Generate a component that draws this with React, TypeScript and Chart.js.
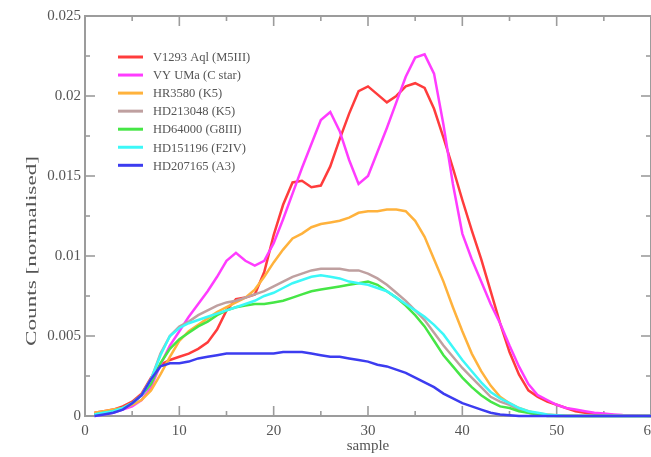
import React, { useEffect, useRef } from "react";
import { Chart, registerables } from "chart.js";

Chart.register(...registerables);

const samples = [1, 2, 3, 4, 5, 6, 7, 8, 9, 10, 11, 12, 13, 14, 15, 16, 17, 18, 19, 20, 21, 22, 23, 24, 25, 26, 27, 28, 29, 30, 31, 32, 33, 34, 35, 36, 37, 38, 39, 40, 41, 42, 43, 44, 45, 46, 47, 48, 49, 50, 51, 52, 53, 54, 55, 56, 57, 58, 59, 60];

const v1293Aql = [0.0002, 0.0003, 0.0004, 0.0006, 0.0009, 0.0014, 0.0024, 0.0032, 0.0035, 0.0037,
  0.0039, 0.0042, 0.0046, 0.0054, 0.0066, 0.0073, 0.0074, 0.0076, 0.0090, 0.0113,
  0.0132, 0.0146, 0.0147, 0.0143, 0.0144, 0.0156, 0.0173, 0.0189, 0.0203, 0.0206,
  0.0201, 0.0196, 0.0200, 0.0206, 0.0208, 0.0205, 0.0192, 0.0174, 0.0155, 0.0135,
  0.0116, 0.0098, 0.0078, 0.0058, 0.0040, 0.0026, 0.0016, 0.0012, 0.0009, 0.0007,
  0.0005, 0.0003, 0.0002, 0.00014, 0.0001, 0.00006, 0.00004, 0.00002, 0.00001, 0];

const vyUMa = [0, 0.0001, 0.0002, 0.0004, 0.0006, 0.0010, 0.0018, 0.0032, 0.0044, 0.0053,
  0.0062, 0.0070, 0.0078, 0.0087, 0.0097, 0.0102, 0.0097, 0.0094, 0.0097, 0.0108,
  0.0123, 0.0139, 0.0155, 0.0170, 0.0185, 0.0190, 0.0178, 0.0160, 0.0145, 0.0150,
  0.0165, 0.0180, 0.0196, 0.0212, 0.0224, 0.0226, 0.0214, 0.0182, 0.0145, 0.0114,
  0.0098, 0.0084, 0.0070, 0.0058, 0.0044, 0.0031, 0.0020, 0.0013, 0.0010, 0.0007,
  0.0005, 0.0004, 0.0003, 0.0002, 0.00015, 0.0001, 0.00006, 0.00004, 0.00002, 0.00001];

const hr3580 = [0.0002, 0.0003, 0.0004, 0.0005, 0.0007, 0.0010, 0.0016, 0.0026, 0.0037, 0.0047,
  0.0053, 0.0057, 0.0061, 0.0065, 0.0068, 0.0071, 0.0074, 0.0079, 0.0087, 0.0096,
  0.0104, 0.0111, 0.0114, 0.0118, 0.0120, 0.0121, 0.0122, 0.0124, 0.0127, 0.0128,
  0.0128, 0.0129, 0.0129, 0.0128, 0.0122, 0.0112, 0.0098, 0.0084, 0.0068, 0.0053,
  0.0039, 0.0028, 0.0019, 0.0012, 0.0008, 0.0005, 0.0003, 0.00015, 0.0001, 0.00005,
  0.00002, 0.00001, 0, 0, 0, 0, 0, 0, 0, 0];

const hd213048 = [0.0001, 0.0002, 0.0003, 0.0005, 0.0008, 0.0013, 0.0023, 0.0039, 0.0050, 0.0056,
  0.0059, 0.0063, 0.0066, 0.0069, 0.0071, 0.0072, 0.0074, 0.0076, 0.0078, 0.0081,
  0.0084, 0.0087, 0.0089, 0.0091, 0.0092, 0.0092, 0.0092, 0.0091, 0.0091, 0.0089,
  0.0086, 0.0082, 0.0077, 0.0072, 0.0066, 0.0060, 0.0052, 0.0044, 0.0037, 0.0030,
  0.0024, 0.0018, 0.0012, 0.0009, 0.0007, 0.0004, 0.0002, 0.0001, 0.00005, 0,
  0, 0, 0, 0, 0, 0, 0, 0, 0, 0];

const hd64000 = [0.0001, 0.0002, 0.0003, 0.0005, 0.0008, 0.0013, 0.0020, 0.0033, 0.0042, 0.0048,
  0.0052, 0.0056, 0.0059, 0.0063, 0.0066, 0.0068, 0.0069, 0.0070, 0.0070, 0.0071,
  0.0072, 0.0074, 0.0076, 0.0078, 0.0079, 0.0080, 0.0081, 0.0082, 0.0083, 0.0084,
  0.0082, 0.0078, 0.0074, 0.0069, 0.0063, 0.0056, 0.0047, 0.0038, 0.0031, 0.0024,
  0.0018, 0.0013, 0.0009, 0.0006, 0.0005, 0.0003, 0.0002, 0.0001, 0, 0,
  0, 0, 0, 0, 0, 0, 0, 0, 0, 0];

const hd151196 = [0.0001, 0.0002, 0.0003, 0.0005, 0.0008, 0.0013, 0.0023, 0.0038, 0.0050, 0.0055,
  0.0058, 0.0060, 0.0062, 0.0064, 0.0066, 0.0068, 0.0070, 0.0072, 0.0075, 0.0077,
  0.0080, 0.0083, 0.0085, 0.0087, 0.0088, 0.0087, 0.0086, 0.0084, 0.0083, 0.0082,
  0.0080, 0.0078, 0.0074, 0.0070, 0.0066, 0.0062, 0.0057, 0.0051, 0.0043, 0.0035,
  0.0028, 0.0021, 0.0015, 0.0011, 0.0008, 0.0005, 0.0003, 0.0002, 0.0001, 0.00005,
  0, 0, 0, 0, 0, 0, 0, 0, 0, 0];

const hd207165 = [0, 0.0001, 0.0002, 0.0004, 0.0008, 0.0013, 0.0023, 0.0031, 0.0033, 0.0033,
  0.0034, 0.0036, 0.0037, 0.0038, 0.0039, 0.0039, 0.0039, 0.0039, 0.0039, 0.0039,
  0.0040, 0.0040, 0.0040, 0.0039, 0.0038, 0.0037, 0.0037, 0.0036, 0.0035, 0.0034,
  0.0032, 0.0031, 0.0029, 0.0027, 0.0024, 0.0021, 0.0018, 0.0014, 0.0011, 0.0008,
  0.0006, 0.0004, 0.0002, 0.0001, 0.00005, 0, 0, 0, 0, 0,
  0, 0, 0, 0, 0, 0, 0, 0, 0, 0];

const seriesLabels = [
  "V1293 Aql (M5III)",
  "VY UMa (C star)",
  "HR3580 (K5)",
  "HD213048 (K5)",
  "HD64000 (G8III)",
  "HD151196 (F2IV)",
  "HD207165 (A3)",
];
const seriesValues = [v1293Aql, vyUMa, hr3580, hd213048, hd64000, hd151196, hd207165];
const seriesColors = ["#ff3c3c", "#ff3cff", "#ffb23c", "#bfa0a0", "#46e646", "#3cf8f8", "#3c3cf0"];

const xTicks = [0, 10, 20, 30, 40, 50, 60];
const xMinorTicks = [5, 15, 25, 35, 45, 55];
const yTicks = [0, 0.005, 0.01, 0.015, 0.02, 0.025];
const yMinorTicks = [0.0025, 0.0075, 0.0125, 0.0175, 0.0225];

const xTitle = "sample";
const yTitle = "Counts [normalised]";

const FONT = "'Liberation Serif', 'DejaVu Serif', serif";
const TEXT = "#555555";
const AXIS = "#9c9c9c";

const framePlugin = {
  id: "graceFrame",
  beforeDatasetsDraw(chart: any) {
    const { ctx, chartArea: a, scales } = chart;
    const x = scales.x;
    const y = scales.y;
    ctx.save();
    ctx.strokeStyle = AXIS;
    ctx.lineWidth = 2;
    ctx.strokeRect(a.left, a.top, a.right - a.left, a.bottom - a.top);
    ctx.lineWidth = 1.6;
    const seg = (x1: number, y1: number, x2: number, y2: number) => {
      ctx.beginPath();
      ctx.moveTo(x1, y1);
      ctx.lineTo(x2, y2);
      ctx.stroke();
    };
    xTicks.forEach((v) => {
      const p = x.getPixelForValue(v);
      seg(p, a.bottom, p, a.bottom - 10);
      seg(p, a.top, p, a.top + 10);
    });
    xMinorTicks.forEach((v) => {
      const p = x.getPixelForValue(v);
      seg(p, a.bottom, p, a.bottom - 5);
      seg(p, a.top, p, a.top + 5);
    });
    yTicks.forEach((v) => {
      const p = y.getPixelForValue(v);
      seg(a.left, p, a.left + 10, p);
      seg(a.right, p, a.right - 10, p);
    });
    yMinorTicks.forEach((v) => {
      const p = y.getPixelForValue(v);
      seg(a.left, p, a.left + 5, p);
      seg(a.right, p, a.right - 5, p);
    });
    ctx.restore();
  },
  afterDraw(chart: any) {
    const { ctx, chartArea: a } = chart;
    ctx.save();
    // legend
    const rowTop = a.top + 41;
    const rowGap = 18.05;
    ctx.font = `12.5px ${FONT}`;
    ctx.textBaseline = "middle";
    ctx.textAlign = "left";
    chart.data.datasets.forEach((ds: any, i: number) => {
      const yy = rowTop + i * rowGap;
      ctx.strokeStyle = ds.borderColor;
      ctx.lineWidth = 3;
      ctx.beginPath();
      ctx.moveTo(a.left + 33, yy);
      ctx.lineTo(a.left + 58, yy);
      ctx.stroke();
      ctx.fillStyle = TEXT;
      ctx.fillText(ds.label, a.left + 68, yy + 1);
    });
    // y axis title
    ctx.font = `14px ${FONT}`;
    ctx.fillStyle = TEXT;
    ctx.textAlign = "center";
    ctx.textBaseline = "middle";
    const w = ctx.measureText(yTitle).width;
    ctx.translate(32, 251);
    ctx.rotate(-Math.PI / 2);
    ctx.scale(190 / w, 1.1);
    ctx.fillText(yTitle, 0, 0);
    ctx.restore();
  },
};

export default function App() {
  const ref = useRef<HTMLCanvasElement | null>(null);
  useEffect(() => {
    if (!ref.current) return;
    const chart = new Chart(ref.current, {
      type: "line",
      data: {
        datasets: seriesValues.map((vals, i) => ({
          label: seriesLabels[i],
          data: samples.map((s, j) => ({ x: s, y: vals[j] })),
          borderColor: seriesColors[i],
          backgroundColor: seriesColors[i],
          borderWidth: 2.5,
          pointRadius: 0,
          tension: 0,
          fill: false,
          order: seriesValues.length - i,
          clip: false as any,
        })),
      },
      options: {
        responsive: false,
        animation: false,
        devicePixelRatio: 1,
        layout: { padding: { left: 0, right: 49, top: 16, bottom: 0 } },
        plugins: { legend: { display: false }, tooltip: { enabled: false } },
        scales: {
          x: {
            type: "linear",
            min: 0,
            max: 60,
            afterBuildTicks: (s: any) => {
              s.ticks = xTicks.map((v) => ({ value: v }));
            },
            grid: { display: false, drawTicks: false, tickLength: 0 },
            border: { display: false },
            ticks: {
              font: { family: FONT, size: 15 },
              color: TEXT,
              padding: 6,
              maxRotation: 0,
              autoSkip: false,
            },
            title: {
              display: true,
              text: xTitle,
              font: { family: FONT, size: 15 },
              color: TEXT,
              padding: { top: 0, bottom: 2 },
            },
            afterFit: (s: any) => {
              s.height = 41;
            },
          },
          y: {
            type: "linear",
            min: 0,
            max: 0.025,
            afterBuildTicks: (s: any) => {
              s.ticks = yTicks.map((v) => ({ value: v }));
            },
            grid: { display: false, drawTicks: false, tickLength: 0 },
            border: { display: false },
            ticks: {
              font: { family: FONT, size: 15 },
              color: TEXT,
              padding: 4,
              callback: (v: any) => String(Number(Number(v).toFixed(4))),
            },
            afterFit: (s: any) => {
              s.width = 85;
            },
          },
        },
      },
      plugins: [framePlugin],
    });
    return () => chart.destroy();
  }, []);
  return (
    <div
      style={{
        position: "fixed",
        left: 0,
        top: 0,
        width: 651,
        height: 457,
        overflow: "hidden",
        background: "#fff",
      }}
    >
      <canvas ref={ref} width={700} height={457} style={{ display: "block", width: 700, height: 457 }} />
    </div>
  );
}
